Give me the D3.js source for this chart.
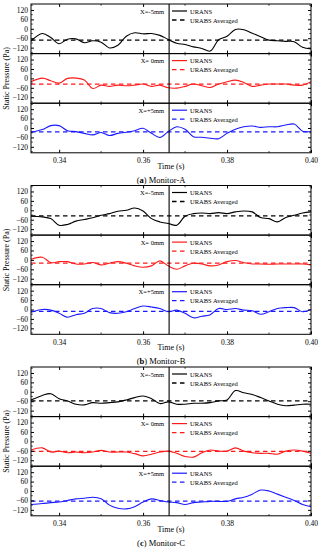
<!DOCTYPE html>
<html><head><meta charset="utf-8">
<script src="https://cdn.jsdelivr.net/npm/d3@7"></script>
<style>body{margin:0;background:#fff}svg{display:block}text{font-family:"Liberation Serif","Times New Roman",serif}</style>
</head><body><svg id="c" width="322" height="550"></svg>
<script>
// ---- data ----
const times = [0.3333,0.336,0.338,0.340,0.342,0.344,0.346,0.348,0.350,0.352,0.354,0.356,0.358,0.360,0.362,0.364,0.366,0.368,0.370,0.372,0.374,0.376,0.378,0.380,0.382,0.384,0.386,0.388,0.390,0.392,0.394,0.396,0.398,0.400];
const monitors = ["(a) Monitor-A","(b) Monitor-B","(c) Monitor-C"];
const positions = ["X=-5mm","X= 0mm","X=+5mm"];
const seriesColors = ["#000000","#ff1a1a","#1a1aff"];
const legendLabels = ["URANS","URABS Averaged"];
const yTicks = [-120,-60,0,60,120];
const xTicks = [0.34,0.36,0.38,0.40];
const markerTime = 0.3662;
// URANS series per monitor (rows: -5mm, 0mm, +5mm)
const monA_m5 = [-78,-30,-55,-95,-66,-64,-89,-76,-85,-122,-105,-47,-25,-32,-30,-42,-68,-92,-100,-115,-125,-142,-70,-47,-4,-6,-28,-50,-72,-76,-80,-82,-118,-128];
const monA_0  = [-21,2,-15,-30,0,2,-10,-64,-43,-51,-43,-47,-43,-36,-51,-43,-60,-62,-51,-36,-47,-58,-36,-21,-11,-26,-51,-43,-36,-36,-36,-43,-43,-21];
const monA_p5 = [-27,-10,15,15,-17,-23,-34,-44,-29,-48,-34,-27,-17,-2,-34,-60,-23,8,-8,-55,-59,-65,-68,-34,-8,8,13,4,8,8,19,25,-20,-23];
const monB_m5 = [-38,-42,-53,-95,-90,-69,-59,-48,-32,-21,-6,0,15,-4,-53,-74,-84,-95,-38,-21,-17,-21,-15,-21,-10,-4,-10,-46,-53,-74,-46,-32,-17,-10];
const monB_0  = [4,17,-17,-11,-11,-26,-26,-17,-32,-21,-11,-21,-38,-47,-38,-6,-38,-60,-38,-21,-26,-38,-32,-11,-4,-17,-26,-26,-28,-26,-26,-26,-26,-32];
const monB_p5 = [-18,0,-4,-24,-49,-33,-24,6,6,-20,-24,-14,6,22,16,6,-14,-4,-24,-53,-43,-33,6,0,6,-4,-8,-30,-14,6,12,12,-14,0];
const monC_m5 = [-52,-23,-12,-44,-58,-79,-83,-69,-73,-69,-64,-52,-37,-27,-44,-75,-64,-79,-79,-73,-73,-69,-58,-52,8,-6,-17,-37,-58,-79,-89,-85,-79,-79];
const monC_0  = [-55,-41,-68,-62,-72,-68,-72,-68,-57,-68,-68,-68,-78,-92,-82,-68,-62,-76,-96,-100,-72,-55,-62,-62,-41,-62,-72,-76,-76,-82,-62,-55,-62,-76];
const monC_p5 = [-86,-80,-74,-70,-60,-50,-46,-40,-50,-90,-110,-114,-100,-70,-50,-60,-70,-74,-86,-74,-70,-66,-66,-66,-50,-40,-20,6,0,-20,-40,-60,-86,-100];
const avgA = [-72,-36,-25];
const avgB = [-36,-21,-12];
const avgC = [-58,-64,-64];

const uransSets = [[monA_m5,monA_0,monA_p5],[monB_m5,monB_0,monB_p5],[monC_m5,monC_0,monC_p5]];
const avgSets = [avgA,avgB,avgC];

// ---- layout ----
const svg = d3.select("#c");
const L = 31, R = 311, panelH = 49.6;
const groupTops = [4, 185.5, 367];
const x = d3.scaleLinear().domain([0.3333,0.400]).range([L,R]);

groupTops.forEach((gt, gi) => {
  const g = svg.append("g");
  for (let pi = 0; pi < 3; pi++) {
    const top = gt + pi*panelH, bot = top + panelH;
    const y = d3.scaleLinear().domain([-158,158]).range([bot,top]);
    const p = g.append("g");
    const color = seriesColors[pi];
    // clip
    const cid = `clip${gi}${pi}`;
    p.append("clipPath").attr("id",cid).append("rect").attr("x",L).attr("y",top).attr("width",R-L).attr("height",panelH);
    // avg dashed
    p.append("line").attr("clip-path",`url(#${cid})`)
      .attr("x1",x(x.domain()[0])).attr("x2",x(x.domain()[1]))
      .attr("y1",y(avgSets[gi][pi])).attr("y2",y(avgSets[gi][pi]))
      .attr("stroke",color).attr("stroke-width",1.3).attr("stroke-dasharray","4.5,3.5");
    // urans line
    const line = d3.line().x((d,i)=>x(times[i])).y(d=>y(d)).curve(d3.curveCatmullRom.alpha(0.5));
    p.append("path").datum(uransSets[gi][pi]).attr("clip-path",`url(#${cid})`)
      .attr("d",line).attr("fill","none").attr("stroke",color).attr("stroke-width",1.1);
    // left axis
    const la = p.append("g").attr("transform",`translate(${L},0)`)
      .call(d3.axisLeft(y).tickValues(yTicks).tickSize(-3).tickPadding(2).tickFormat(d3.format("d")));
    la.select(".domain").remove();
    la.selectAll("text").attr("font-size",7.5).attr("fill","#000").attr("x",-3);
    la.selectAll("line").attr("stroke","#000");
    // minor y ticks
    const ra = p.append("g").attr("transform",`translate(${R},0)`)
      .call(d3.axisRight(y).tickValues(yTicks).tickSize(-3).tickFormat(""));
    ra.select(".domain").remove();
    [-150,-90,-30,30,90,150].forEach(v=>{
      p.append("line").attr("x1",L).attr("x2",L+1.8).attr("y1",y(v)).attr("y2",y(v)).attr("stroke","#000").attr("stroke-width",0.7);
      p.append("line").attr("x1",R).attr("x2",R-1.8).attr("y1",y(v)).attr("y2",y(v)).attr("stroke","#000").attr("stroke-width",0.7);
    });
    // x ticks top/bottom
    const ba = p.append("g").attr("transform",`translate(0,${bot})`)
      .call(d3.axisBottom(x).tickValues(xTicks).tickSize(-3).tickFormat(pi===2?d3.format(".2f"):""));
    ba.select(".domain").remove();
    ba.selectAll("text").attr("font-size",7.5).attr("fill","#000").attr("y",5);
    const ta = p.append("g").attr("transform",`translate(0,${top})`)
      .call(d3.axisTop(x).tickValues(xTicks).tickSize(-3).tickFormat(""));
    ta.select(".domain").remove();
    [0.35,0.37,0.39].forEach(v=>{
      p.append("line").attr("x1",x(v)).attr("x2",x(v)).attr("y1",top).attr("y2",top+1.8).attr("stroke","#000").attr("stroke-width",0.7);
      p.append("line").attr("x1",x(v)).attr("x2",x(v)).attr("y1",bot).attr("y2",bot-1.8).attr("stroke","#000").attr("stroke-width",0.7);
    });
    // frame
    p.append("rect").attr("x",L).attr("y",top).attr("width",R-L).attr("height",panelH)
      .attr("fill","none").attr("stroke","#000").attr("stroke-width",1);
    // legend
    p.append("text").attr("x",164).attr("y",top+9.5).attr("text-anchor","end").attr("font-size",6.5).text(positions[pi]);
    p.append("line").attr("x1",172).attr("x2",187).attr("y1",top+7).attr("y2",top+7).attr("stroke",color).attr("stroke-width",1.2);
    p.append("text").attr("x",190).attr("y",top+9.5).attr("font-size",6.5).text(legendLabels[0]);
    p.append("line").attr("x1",172).attr("x2",187).attr("y1",top+16).attr("y2",top+16).attr("stroke",color).attr("stroke-width",1.3).attr("stroke-dasharray","4.5,3.5");
    p.append("text").attr("x",190).attr("y",top+18.5).attr("font-size",6.5).text(legendLabels[1]);
  }
  // vertical marker line
  g.append("line").attr("x1",x(markerTime)).attr("x2",x(markerTime)).attr("y1",gt).attr("y2",gt+3*panelH)
    .attr("stroke","#000").attr("stroke-width",1.1);
  // axis titles
  g.append("text").attr("transform",`translate(9,${gt+1.5*panelH}) rotate(-90)`).attr("text-anchor","middle")
    .attr("font-size",8).text("Static Pressure (Pa)");
  g.append("text").attr("x",171).attr("y",gt+3*panelH+16).attr("text-anchor","middle").attr("font-size",8).text("Time (s)");
  const cap = g.append("text").attr("x",161).attr("y",gt+3*panelH+30).attr("text-anchor","middle").attr("font-size",8.5);
  const m = monitors[gi].match(/^\((.)\)(.*)$/);
  cap.append("tspan").text("(");
  cap.append("tspan").attr("font-weight","bold").text(m[1]);
  cap.append("tspan").text(")" + m[2]);
});
</script></body></html>
